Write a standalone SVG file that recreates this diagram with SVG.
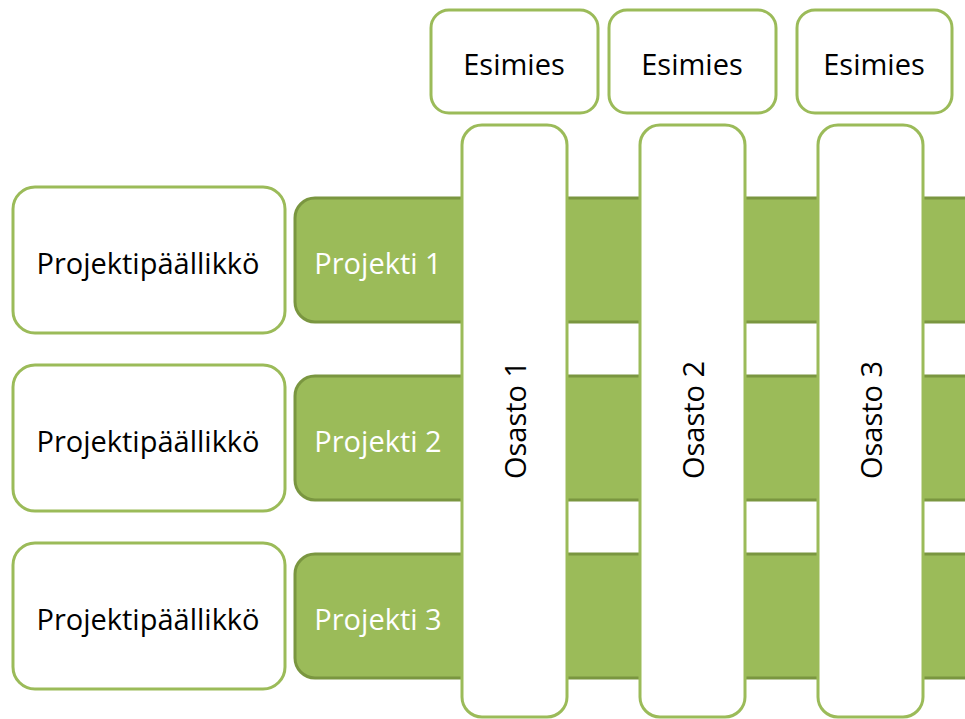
<svg xmlns="http://www.w3.org/2000/svg" width="965" height="719" viewBox="0 0 965 719">
<style>
.box{fill:#fff;stroke:#9BBB59;stroke-width:3}
.bar{fill:#9BBB59;stroke:#7A9640;stroke-width:3}
.t{font-family:"Open Sans","Liberation Sans",sans-serif;font-size:29px;fill:#000;text-anchor:middle;dominant-baseline:central}
.w{fill:#fff}
</style>
<rect width="965" height="719" fill="#fff"/>
<g id="pm1"><rect class="box" x="13" y="187" width="272" height="146" rx="22"/><text class="t" x="148" y="262">Projektipäällikkö</text></g>
<g id="pm2"><rect class="box" x="13" y="365" width="272" height="146" rx="22"/><text class="t" x="148" y="440">Projektipäällikkö</text></g>
<g id="pm3"><rect class="box" x="13" y="543" width="272" height="146" rx="22"/><text class="t" x="148" y="618">Projektipäällikkö</text></g>
<g id="p1"><rect class="bar" x="295" y="198" width="690" height="124" rx="20"/><text class="t w" x="378" y="262">Projekti 1</text></g>
<g id="p2"><rect class="bar" x="295" y="376" width="690" height="124" rx="20"/><text class="t w" x="378" y="440">Projekti 2</text></g>
<g id="p3"><rect class="bar" x="295" y="554" width="690" height="124" rx="20"/><text class="t w" x="378" y="618">Projekti 3</text></g>
<g id="o1"><rect class="box" x="462" y="125" width="105" height="592" rx="20"/><text class="t" transform="translate(514 420) rotate(-90)">Osasto 1</text></g>
<g id="o2"><rect class="box" x="640" y="125" width="105" height="592" rx="20"/><text class="t" transform="translate(692 420) rotate(-90)">Osasto 2</text></g>
<g id="o3"><rect class="box" x="818" y="125" width="105" height="592" rx="20"/><text class="t" transform="translate(870 420) rotate(-90)">Osasto 3</text></g>
<g id="e1"><rect class="box" x="431" y="10" width="167" height="103" rx="18"/><text class="t" x="514" y="63">Esimies</text></g>
<g id="e2"><rect class="box" x="609" y="10" width="167" height="103" rx="18"/><text class="t" x="692" y="63">Esimies</text></g>
<g id="e3"><rect class="box" x="797" y="10" width="155" height="103" rx="18"/><text class="t" x="874" y="63">Esimies</text></g>
<g id="connectors"/>
</svg>
